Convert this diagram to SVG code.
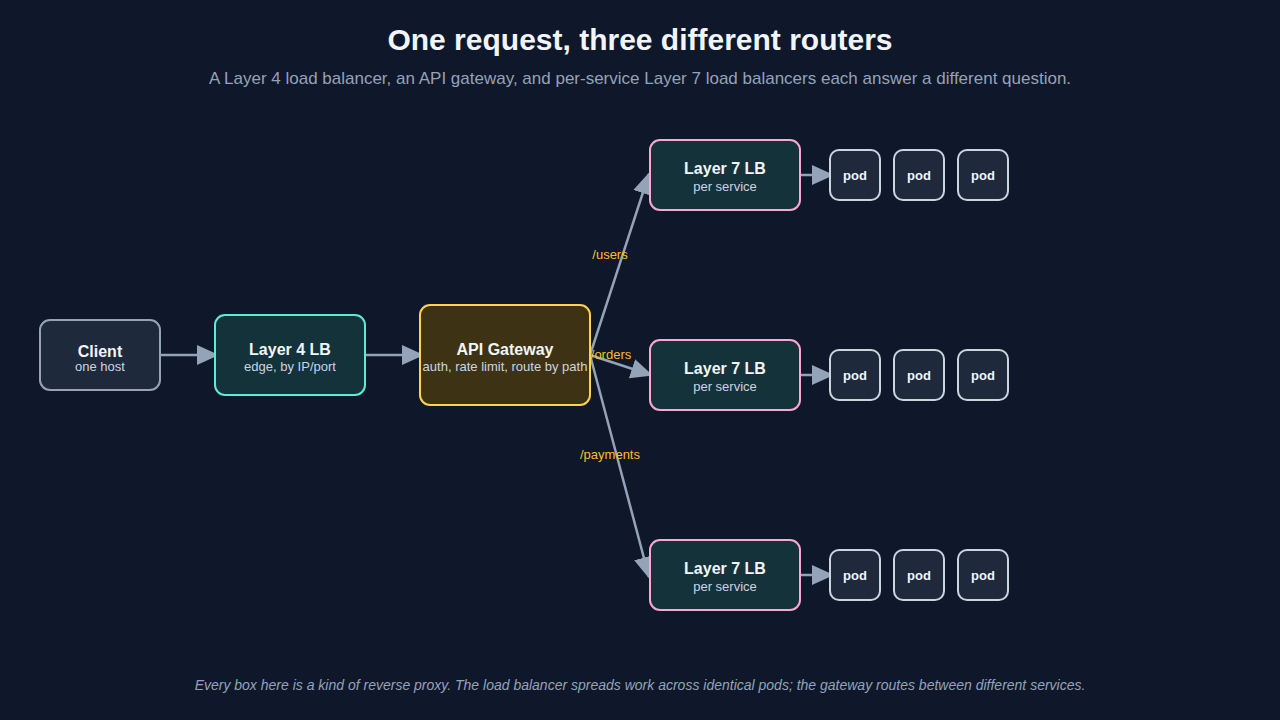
<svg xmlns="http://www.w3.org/2000/svg" width="1280" height="720" viewBox="0 0 1280 720">
<style>
text{font-family:"Liberation Sans",Arial,sans-serif;text-anchor:middle}
.t{font-size:16px;font-weight:bold;fill:#f1f5f9}
.s{font-size:13px;fill:#cbd5e1}
.pod rect{fill:#1e293b;stroke:#cbd5e1;stroke-width:2}
.pod text{font-size:13px;font-weight:bold;fill:#f1f5f9}
.l7 rect{fill:#14323a;stroke:#f9a8d4;stroke-width:2}
.c line{stroke:#94a3b8;stroke-width:2.5;marker-end:url(#a)}
.lb{font-size:13px;fill:#fbbf24}
</style>
<defs><marker id="a" markerUnits="userSpaceOnUse" markerWidth="22" markerHeight="22" viewBox="0 0 22 22" refX="20" refY="11" orient="auto"><path d="M0,1 L22,11 L0,21 z" fill="#94a3b8"/></marker></defs>
<rect width="1280" height="720" fill="#0f172a"/>
<text x="640" y="50" font-size="30" font-weight="bold" fill="#f1f5f9">One request, three different routers</text>
<text x="640" y="84" font-size="17" fill="#94a3b8">A Layer 4 load balancer, an API gateway, and per-service Layer 7 load balancers each answer a different question.</text>
<g class="c">
<line x1="160" y1="355" x2="217" y2="355"/>
<line x1="365" y1="355" x2="422" y2="355"/>
<line x1="590" y1="355" x2="649" y2="174"/>
<line x1="590" y1="355" x2="651" y2="375"/>
<line x1="590" y1="355" x2="649" y2="577"/>
<line x1="800" y1="175" x2="832" y2="175"/>
<line x1="800" y1="375" x2="832" y2="375"/>
<line x1="800" y1="575" x2="832" y2="575"/>
</g>
<text class="lb" x="610" y="259">/users</text>
<text class="lb" x="611" y="359">/orders</text>
<text class="lb" x="610" y="459">/payments</text>
<g id="client"><rect x="40" y="320" width="120" height="70" rx="10" fill="#1e293b" stroke="#94a3b8" stroke-width="2"/><text class="t" x="100" y="357" font-size="18">Client</text><text class="s" x="100" y="371">one host</text></g>
<g id="l4"><rect x="215" y="315" width="150" height="80" rx="10" fill="#14323a" stroke="#5eead4" stroke-width="2"/><text class="t" x="290" y="355">Layer 4 LB</text><text class="s" x="290" y="371">edge, by IP/port</text></g>
<g id="gw"><rect x="420" y="305" width="170" height="100" rx="10" fill="#3d3214" stroke="#fcd34d" stroke-width="2"/><text class="t" x="505" y="355">API Gateway</text><text class="s" x="505" y="371">auth, rate limit, route by path</text></g>
<g id="l7a" class="l7"><rect x="650" y="140" width="150" height="70" rx="10"/><text class="t" x="725" y="174" font-size="15">Layer 7 LB</text><text class="s" x="725" y="191">per service</text></g>
<g id="l7b" class="l7"><rect x="650" y="340" width="150" height="70" rx="10"/><text class="t" x="725" y="374" font-size="15">Layer 7 LB</text><text class="s" x="725" y="391">per service</text></g>
<g id="l7c" class="l7"><rect x="650" y="540" width="150" height="70" rx="10"/><text class="t" x="725" y="574" font-size="15">Layer 7 LB</text><text class="s" x="725" y="591">per service</text></g>
<g id="p1" class="pod"><rect x="830" y="150" width="50" height="50" rx="9"/><text x="855" y="180">pod</text></g>
<g id="p2" class="pod"><rect x="894" y="150" width="50" height="50" rx="9"/><text x="919" y="180">pod</text></g>
<g id="p3" class="pod"><rect x="958" y="150" width="50" height="50" rx="9"/><text x="983" y="180">pod</text></g>
<g id="p4" class="pod"><rect x="830" y="350" width="50" height="50" rx="9"/><text x="855" y="380">pod</text></g>
<g id="p5" class="pod"><rect x="894" y="350" width="50" height="50" rx="9"/><text x="919" y="380">pod</text></g>
<g id="p6" class="pod"><rect x="958" y="350" width="50" height="50" rx="9"/><text x="983" y="380">pod</text></g>
<g id="p7" class="pod"><rect x="830" y="550" width="50" height="50" rx="9"/><text x="855" y="580">pod</text></g>
<g id="p8" class="pod"><rect x="894" y="550" width="50" height="50" rx="9"/><text x="919" y="580">pod</text></g>
<g id="p9" class="pod"><rect x="958" y="550" width="50" height="50" rx="9"/><text x="983" y="580">pod</text></g>
<text x="640" y="690" font-size="14" font-style="italic" fill="#94a3b8">Every box here is a kind of reverse proxy. The load balancer spreads work across identical pods; the gateway routes between different services.</text>
</svg>
